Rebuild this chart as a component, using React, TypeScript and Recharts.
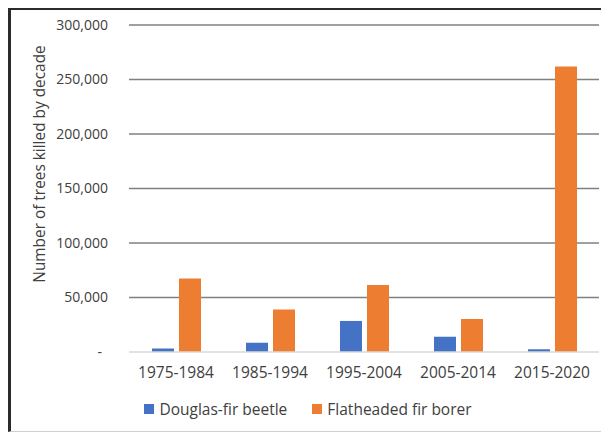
import React from "react";
import { BarChart, Bar, XAxis, YAxis, CartesianGrid, Legend } from "recharts";

const categories = ["1975-1984", "1985-1994", "1995-2004", "2005-2014", "2015-2020"];
const douglasFirBeetle = [3200, 8500, 28500, 14000, 2500];
const flatheadedFirBorer = [67500, 39000, 61500, 30300, 262000];
const yTicks = [0, 50000, 100000, 150000, 200000, 250000, 300000];
const gridValues = [50000, 100000, 150000, 200000, 250000, 300000];

const BLUE = "#4472C4";
const ORANGE = "#ED7D31";
const TEXT = "#404040";
const FONT = "'Open Sans', sans-serif";

const data = categories.map((c, i) => ({
  name: c,
  beetle: douglasFirBeetle[i],
  borer: flatheadedFirBorer[i],
}));

const fmt = (v: number) => v.toLocaleString("en-US");

const YTick = (props: any) => {
  const { x, y, payload } = props;
  const isZero = payload.value === 0;
  return (
    <text
      x={isZero ? x - 6 : x}
      y={y}
      dy="0.35em"
      textAnchor="end"
      fill={TEXT}
      fontSize={14}
      fontFamily={FONT}
    >
      {isZero ? "-" : fmt(payload.value)}
    </text>
  );
};

const LegendContent = () => {
  const items = [
    { label: "Douglas-fir beetle", color: BLUE },
    { label: "Flatheaded fir borer", color: ORANGE },
  ];
  return (
    <div
      style={{
        display: "flex",
        justifyContent: "center",
        alignItems: "center",
        gap: 25,
        height: 24,
        fontFamily: FONT,
        fontSize: 15.5,
        color: TEXT,
        paddingLeft: 6,
      }}
    >
      {items.map((it) => (
        <div key={it.label} style={{ display: "flex", alignItems: "center" }}>
          <span
            style={{
              display: "inline-block",
              width: 10,
              height: 10,
              background: it.color,
              marginRight: 5,
            }}
          />
          <span>{it.label}</span>
        </div>
      ))}
    </div>
  );
};

export default function App() {
  return (
    <div
      style={{
        width: 601,
        height: 424,
        boxSizing: "border-box",
        borderTop: "2px solid #2b2b2b",
        borderLeft: "3px solid #2b2b2b",
        borderBottom: "1px solid #cfcfcf",
        background: "#fff",
        overflow: "hidden",
        position: "relative",
      }}
    >
      <BarChart
        width={598}
        height={421}
        data={data}
        margin={{ top: 15, right: 10, bottom: 10, left: 0 }}
        barGap={5}
        barCategoryGap={23}
      >
        <text
          x={28}
          y={154}
          transform="rotate(-90 28 154)"
          textAnchor="middle"
          dominantBaseline="central"
          fill={TEXT}
          fontSize={15.4}
          fontFamily={FONT}
        >
          Number of trees killed by decade
        </text>
        <CartesianGrid
          vertical={false}
          horizontalValues={gridValues}
          stroke="#808080"
          strokeWidth={1.3}
        />
        <XAxis
          dataKey="name"
          height={45}
          tickLine={false}
          tickSize={0}
          tickMargin={15}
          axisLine={{ stroke: "#d9d9d9", strokeWidth: 1.3 }}
          tick={{ fill: TEXT, fontSize: 15.5, fontFamily: FONT }}
          interval={0}
        />
        <YAxis
          width={118}
          domain={[0, 300000]}
          ticks={yTicks}
          axisLine={false}
          tickLine={false}
          tickSize={0}
          tickMargin={21}
          tick={<YTick />}
          interval={0}
        />
        <Legend verticalAlign="bottom" height={24} content={<LegendContent />} />
        <Bar dataKey="beetle" name="Douglas-fir beetle" fill={BLUE} isAnimationActive={false} />
        <Bar dataKey="borer" name="Flatheaded fir borer" fill={ORANGE} isAnimationActive={false} />
      </BarChart>
    </div>
  );
}
